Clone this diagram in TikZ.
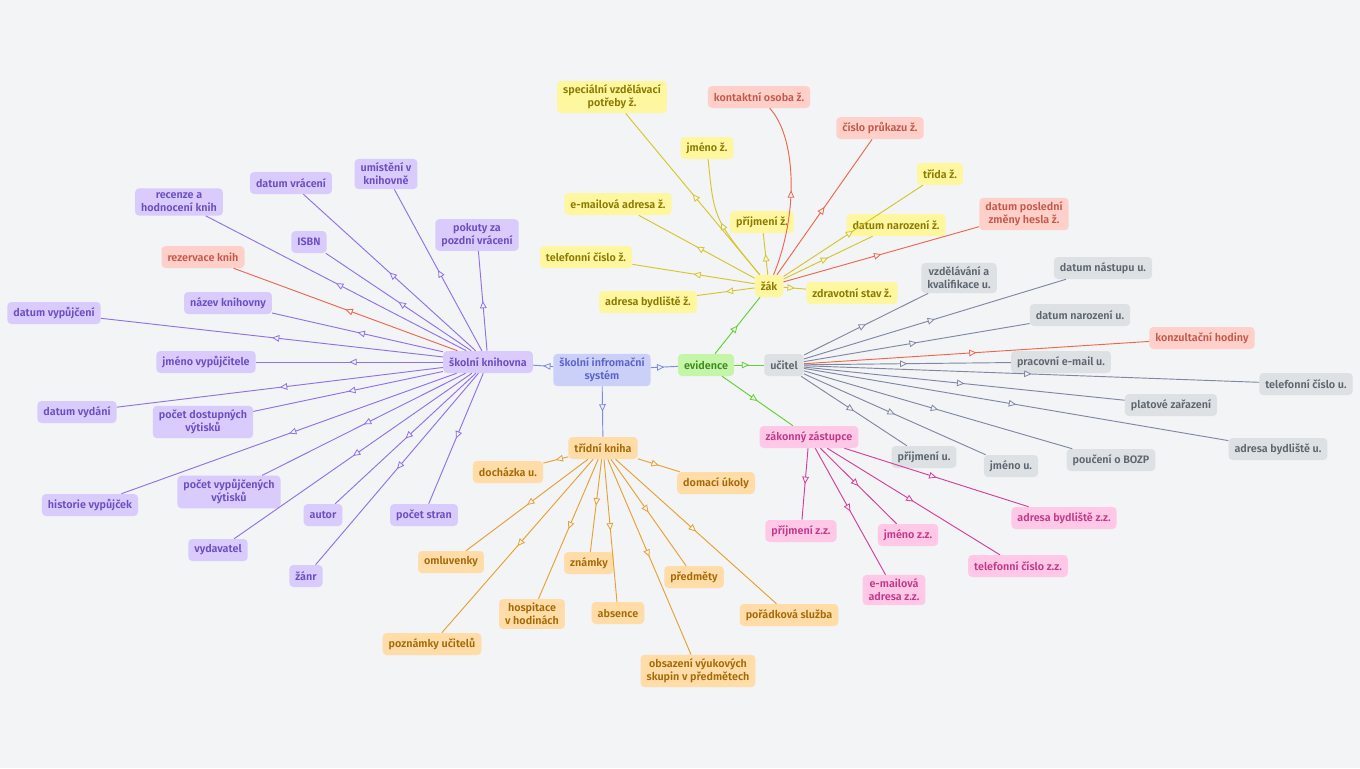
\documentclass[tikz,border=0pt]{standalone}
\usepackage{fontspec}
\setmainfont{Fira Sans}[BoldFont={Fira Sans SemiBold}]
\usetikzlibrary{arrows.meta,decorations.markings}
\definecolor{bgc}{HTML}{F2F4F6}
\definecolor{kfill}{HTML}{D9CBFB}\definecolor{ktext}{HTML}{6C4DC2}\definecolor{kline}{HTML}{9170EA}
\definecolor{sfill}{HTML}{CBD0F9}\definecolor{stext}{HTML}{5B63C8}\definecolor{sline}{HTML}{7C8BE3}
\definecolor{efill}{HTML}{C4F5A8}\definecolor{etext}{HTML}{3E8B1C}\definecolor{eline}{HTML}{62D032}
\definecolor{zfill}{HTML}{FFF6A0}\definecolor{ztext}{HTML}{8A7A00}\definecolor{zline}{HTML}{D8C52A}
\definecolor{rfill}{HTML}{FFD0C9}\definecolor{rtext}{HTML}{C25A4C}\definecolor{rline}{HTML}{EF6650}
\definecolor{ufill}{HTML}{DEE1E4}\definecolor{utext}{HTML}{5D6670}\definecolor{uline}{HTML}{7F87A3}
\definecolor{pfill}{HTML}{FFC8E6}\definecolor{ptext}{HTML}{C03A8B}\definecolor{pline}{HTML}{D83C9C}
\definecolor{tfill}{HTML}{FFDCA8}\definecolor{ttext}{HTML}{A46A06}\definecolor{tline}{HTML}{E9A032}
\tikzset{
  box/.style={rounded corners=3pt,inner xsep=4.5pt,inner ysep=3pt,minimum height=16.5pt,align=center,
    font=\fontsize{8.1}{9.8}\selectfont\bfseries},
  sysbox/.style={box,fill=sfill,text=stext},
  evbox/.style={box,fill=efill,text=etext},
  libbox/.style={box,fill=kfill,text=ktext},
  pupilbox/.style={box,fill=zfill,text=ztext},
  alertbox/.style={box,fill=rfill,text=rtext},
  teachbox/.style={box,fill=ufill,text=utext},
  guardbox/.style={box,fill=pfill,text=ptext},
  bookbox/.style={box,fill=tfill,text=ttext},
  link/.style={line width=0.7pt,postaction={decorate},
    decoration={markings,mark=at position 0.5 with {\arrow{Triangle[length=5.5pt,width=5pt,fill=bgc,line width=0.6pt]}}}},
  syslink/.style={link,draw=sline},
  evlink/.style={link,draw=eline},
  liblink/.style={link,draw=kline},
  pupillink/.style={link,draw=zline},
  alertlink/.style={link,draw=rline},
  teachlink/.style={link,draw=uline},
  guardlink/.style={link,draw=pline},
  booklink/.style={link,draw=tline}
}
\begin{document}
\begin{tikzpicture}[x=0.75pt,y=-0.75pt]
  \fill[bgc] (0,0) rectangle (1360,768);
  % centre
  \node[sysbox] (sys) at (602,370) {školní infromační\\systém};
  \node[evbox] (evid) at (706,365) {evidence};
  \node[libbox] (knih) at (488,362) {školní knihovna};
  \node[bookbox] (trk) at (603,448) {třídní kniha};
  \node[pupilbox] (zak) at (769,286) {žák};
  \node[teachbox] (ucitel) at (784,365) {učitel};
  \node[guardbox] (zz) at (809,437) {zákonný zástupce};
  % knihovna
  \node[libbox] (umisteni) at (386,174) {umístění v\\knihovně};
  \node[libbox] (vraceni) at (291,183) {datum vrácení};
  \node[libbox] (recenze) at (179,202) {recenze a\\hodnocení knih};
  \node[libbox] (pokuty) at (477,235) {pokuty za\\pozdní vrácení};
  \node[libbox] (isbn) at (309,242) {ISBN};
  \node[alertbox] (rezervace) at (203,257) {rezervace knih};
  \node[libbox] (nazev) at (228,303) {název knihovny};
  \node[libbox] (vypujceni) at (54,313) {datum vypůjčení};
  \node[libbox] (vypujcitel) at (206,362) {jméno vypůjčitele};
  \node[libbox] (vydani) at (77,412) {datum vydání};
  \node[libbox] (dostupne) at (203,422) {počet dostupných\\výtisků};
  \node[libbox] (historie) at (90,505) {historie vypůjček};
  \node[libbox] (vypujcene) at (229,492) {počet vypůjčených\\výtisků};
  \node[libbox] (autor) at (323,515) {autor};
  \node[libbox] (strany) at (424,515) {počet stran};
  \node[libbox] (vydavatel) at (218,550) {vydavatel};
  \node[libbox] (zanr) at (306,576) {žánr};
  % zak
  \node[pupilbox] (specialni) at (612,97) {speciální vzdělávací\\potřeby ž.};
  \node[alertbox] (kontakt) at (759,97) {kontaktní osoba ž.};
  \node[pupilbox] (zjmeno) at (707,148) {jméno ž.};
  \node[alertbox] (prukaz) at (880,128) {číslo průkazu ž.};
  \node[pupilbox] (trida) at (940,174) {třída ž.};
  \node[pupilbox] (zmail) at (618,204) {e-mailová adresa ž.};
  \node[pupilbox] (zprijmeni) at (762,222) {příjmení ž.};
  \node[pupilbox] (znarozeni) at (896,225) {datum narození ž.};
  \node[alertbox] (heslo) at (1024,214) {datum poslední\\změny hesla ž.};
  \node[pupilbox] (ztelefon) at (586,257) {telefonní číslo ž.};
  \node[pupilbox] (zadresa) at (648,302) {adresa bydliště ž.};
  \node[pupilbox] (zdravi) at (852,293) {zdravotní stav ž.};
  % ucitel
  \node[teachbox] (kvalifikace) at (959,278) {vzdělávání a\\kvalifikace u.};
  \node[teachbox] (nastup) at (1103,268) {datum nástupu u.};
  \node[teachbox] (unarozeni) at (1080,315) {datum narození u.};
  \node[alertbox] (konzultace) at (1202,338) {konzultační hodiny};
  \node[teachbox] (umail) at (1061,362) {pracovní e-mail u.};
  \node[teachbox] (utelefon) at (1306,384) {telefonní číslo u.};
  \node[teachbox] (plat) at (1171,405) {platové zařazení};
  \node[teachbox] (uadresa) at (1278,449) {adresa bydliště u.};
  \node[teachbox] (uprijmeni) at (924,457) {příjmení u.};
  \node[teachbox] (ujmeno) at (1011,466) {jméno u.};
  \node[teachbox] (bozp) at (1111,460) {poučení o BOZP};
  % zakonny zastupce
  \node[guardbox] (pprijmeni) at (801,531) {příjmení z.z.};
  \node[guardbox] (pjmeno) at (908,535) {jméno z.z.};
  \node[guardbox] (pmail) at (894,590) {e-mailová\\adresa z.z.};
  \node[guardbox] (padresa) at (1064,518) {adresa bydliště z.z.};
  \node[guardbox] (ptelefon) at (1018,566) {telefonní číslo z.z.};
  % tridni kniha
  \node[bookbox] (dochazka) at (508,472) {docházka u.};
  \node[bookbox] (ukoly) at (716,483) {domací úkoly};
  \node[bookbox] (omluvenky) at (451,562) {omluvenky};
  \node[bookbox] (znamky) at (589,563) {známky};
  \node[bookbox] (predmety) at (694,577) {předměty};
  \node[bookbox] (hospitace) at (532,614) {hospitace\\v hodinách};
  \node[bookbox] (absence) at (618,613) {absence};
  \node[bookbox] (sluzba) at (789,615) {pořádková služba};
  \node[bookbox] (poznamky) at (432,644) {poznámky učitelů};
  \node[bookbox] (skupiny) at (698,671) {obsazení výukových\\skupin v předmětech};
  % links
  \draw[syslink] (sys) -- (knih);
  \draw[syslink] (sys) -- (evid);
  \draw[syslink] (sys) -- (trk);
  \draw[evlink] (evid) -- (zak);
  \draw[evlink] (evid) -- (ucitel);
  \draw[evlink] (evid) -- (zz);
  \draw[liblink] (knih) -- (umisteni);
  \draw[liblink] (knih) -- (vraceni);
  \draw[liblink] (knih) -- (recenze);
  \draw[liblink] (knih) -- (pokuty);
  \draw[liblink] (knih) -- (isbn);
  \draw[alertlink] (knih) -- (rezervace);
  \draw[liblink] (knih) -- (nazev);
  \draw[liblink] (knih) -- (vypujceni);
  \draw[liblink] (knih) -- (vypujcitel);
  \draw[liblink] (knih) -- (vydani);
  \draw[liblink] (knih) -- (dostupne);
  \draw[liblink] (knih) -- (historie);
  \draw[liblink] (knih) -- (vypujcene);
  \draw[liblink] (knih) -- (autor);
  \draw[liblink] (knih) -- (strany);
  \draw[liblink] (knih) -- (vydavatel);
  \draw[liblink] (knih) -- (zanr);
  \draw[pupillink] (zak) -- (specialni);
  \draw[alertlink] (zak) .. controls (800,210) and (795,135) .. (kontakt);
  \draw[pupillink] (zak) .. controls (714,219) .. (zjmeno);
  \draw[alertlink] (zak) -- (prukaz);
  \draw[pupillink] (zak) -- (trida);
  \draw[pupillink] (zak) -- (zmail);
  \draw[pupillink] (zak) -- (zprijmeni);
  \draw[pupillink] (zak) -- (znarozeni);
  \draw[alertlink] (zak) -- (heslo);
  \draw[pupillink] (zak) -- (ztelefon);
  \draw[pupillink] (zak) -- (zadresa);
  \draw[pupillink] (zak) -- (zdravi);
  \draw[teachlink] (ucitel) -- (kvalifikace);
  \draw[teachlink] (ucitel) -- (nastup);
  \draw[teachlink] (ucitel) -- (unarozeni);
  \draw[alertlink] (ucitel) -- (konzultace);
  \draw[teachlink] (ucitel) -- (umail);
  \draw[teachlink] (ucitel) -- (utelefon);
  \draw[teachlink] (ucitel) -- (plat);
  \draw[teachlink] (ucitel) -- (uadresa);
  \draw[teachlink] (ucitel) -- (uprijmeni);
  \draw[teachlink] (ucitel) -- (ujmeno);
  \draw[teachlink] (ucitel) -- (bozp);
  \draw[guardlink] (zz) -- (pprijmeni);
  \draw[guardlink] (zz) -- (pjmeno);
  \draw[guardlink] (zz) -- (pmail);
  \draw[guardlink] (zz) -- (padresa);
  \draw[guardlink] (zz) -- (ptelefon);
  \draw[booklink] (trk) -- (dochazka);
  \draw[booklink] (trk) -- (ukoly);
  \draw[booklink] (trk) -- (omluvenky);
  \draw[booklink] (trk) -- (znamky);
  \draw[booklink] (trk) -- (predmety);
  \draw[booklink] (trk) -- (hospitace);
  \draw[booklink] (trk) -- (absence);
  \draw[booklink] (trk) -- (sluzba);
  \draw[booklink] (trk) -- (poznamky);
  \draw[booklink] (trk) -- (skupiny);
\end{tikzpicture}
\end{document}
